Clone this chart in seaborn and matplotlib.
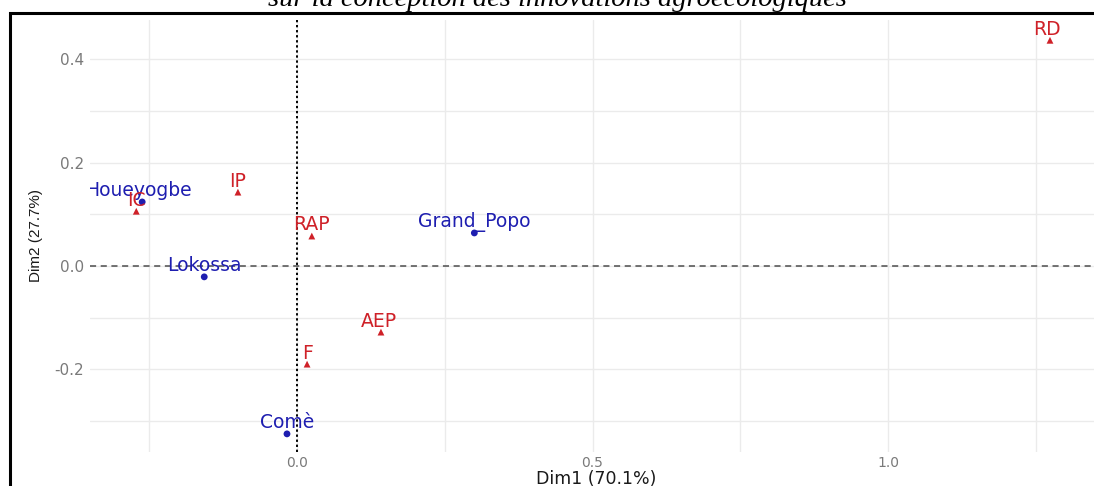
import matplotlib
matplotlib.use("Agg")
import matplotlib.pyplot as plt
from matplotlib.patches import Rectangle
from matplotlib.ticker import MultipleLocator, FixedLocator
import pandas as pd
import seaborn as sns

# Row points of the correspondence analysis (communes)
communes = ["Houeyogbe", "Grand_Popo", "Lokossa", "Comè"]
communes_dim1 = [-0.262, 0.300, -0.157, -0.017]
communes_dim2 = [0.124, 0.064, -0.021, -0.325]

# Column points (innovation categories)
innovations = ["IC", "IP", "RAP", "AEP", "F", "RD"]
innovations_dim1 = [-0.272, -0.100, 0.025, 0.142, 0.017, 1.274]
innovations_dim2 = [0.106, 0.143, 0.058, -0.128, -0.190, 0.437]

x_ticks = [0.0, 0.5, 1.0]
y_ticks = [-0.2, 0.0, 0.2, 0.4]
x_label = "Dim1 (70.1%)"
y_label = "Dim2 (27.7%)"
title = "sur la conception des innovations agroécologiques"

BLUE = "#1e1eb0"
RED = "#cf2128"
TICK_GREY = "#7a7a7a"
GRID = "#ebebeb"

sns.set_theme(style="white")
plt.rcParams["font.family"] = ["DejaVu Sans"]
plt.rcParams["axes.unicode_minus"] = False

df = pd.DataFrame({
    "label": communes + innovations,
    "dim1": communes_dim1 + innovations_dim1,
    "dim2": communes_dim2 + innovations_dim2,
    "kind": ["row"] * len(communes) + ["col"] * len(innovations),
})

W, H = 1094, 486
AX_L, AX_R, AX_T, AX_B = 90, 1102, 20, 452
fig = plt.figure(figsize=(W / 100, H / 100), dpi=100)
fig.patch.set_facecolor("white")
ax = fig.add_axes([AX_L / W, 1 - AX_B / H, (AX_R - AX_L) / W, (AX_B - AX_T) / H])
ax.set_facecolor("white")

ax.set_xlim(-0.3503, 1.362)
ax.set_ylim(-0.3601, 0.4763)

# grid, major and minor
ax.xaxis.set_major_locator(FixedLocator(x_ticks))
ax.yaxis.set_major_locator(FixedLocator(y_ticks))
ax.xaxis.set_minor_locator(MultipleLocator(0.25))
ax.yaxis.set_minor_locator(MultipleLocator(0.1))
ax.grid(True, which="both", color=GRID, linewidth=1.0, zorder=0)
ax.set_axisbelow(True)
for sp in ax.spines.values():
    sp.set_visible(False)

# reference lines through the origin
ax.axhline(0, color="#4d4d4d", linestyle=(0, (4, 3)), linewidth=1.1, zorder=1)
ax.axvline(0, color="black", linestyle=(0, (1.2, 1.4)), linewidth=1.4, zorder=1)

sns.scatterplot(
    data=df, x="dim1", y="dim2", hue="kind", style="kind",
    palette={"row": BLUE, "col": RED},
    markers={"row": "o", "col": "^"},
    s=24, linewidth=0, legend=False, ax=ax, zorder=3,
)

# point labels, set just above each point
nudge = {"Houeyogbe": -3.0, "RD": -2.0, "AEP": -1.5}
for _, r in df.iterrows():
    ax.annotate(
        r["label"], (r["dim1"], r["dim2"]),
        xytext=(nudge.get(r["label"], 0), 8), textcoords="offset points",
        ha="center", va="center", fontsize=13.5,
        color=BLUE if r["kind"] == "row" else RED,
        clip_on=True, zorder=4,
    )

ax.tick_params(axis="x", which="major", length=2, width=1,
               color=TICK_GREY, labelcolor=TICK_GREY, labelsize=10, pad=1)
ax.tick_params(axis="y", which="major", length=3, width=1,
               color=TICK_GREY, labelcolor=TICK_GREY, labelsize=11, pad=1.5)
ax.tick_params(axis="both", which="minor", length=0)
ax.set_xticklabels([f"{v:.1f}" for v in x_ticks])
ax.set_yticklabels([f"{v:.1f}" for v in y_ticks])

ax.set_xlabel(x_label, fontsize=12.5, color="#1a1a1a")
ax.xaxis.set_label_coords((596 - AX_L) / (AX_R - AX_L), -(469.5 - AX_B) / (AX_B - AX_T))
ax.set_ylabel(y_label, fontsize=11, color="#1a1a1a", family=["Liberation Sans", "DejaVu Sans"])
ax.yaxis.set_label_coords((43 - AX_L) / (AX_R - AX_L), (AX_B - 236) / (AX_B - AX_T))

# title, mostly above the visible area
fig.text(557 / W, 1 - 6 / H, title, ha="center", va="baseline",
         fontsize=20.5, style="italic", family=["Liberation Serif", "DejaVu Serif"],
         color="black")

# outer frame
fig.add_artist(Rectangle((10 / W, -0.5), 1.2, (1 - 13 / H) + 0.5,
                         transform=fig.transFigure, fill=False,
                         edgecolor="black", linewidth=2.2, clip_on=False))

fig.savefig("out.png", dpi=100, facecolor="white")
